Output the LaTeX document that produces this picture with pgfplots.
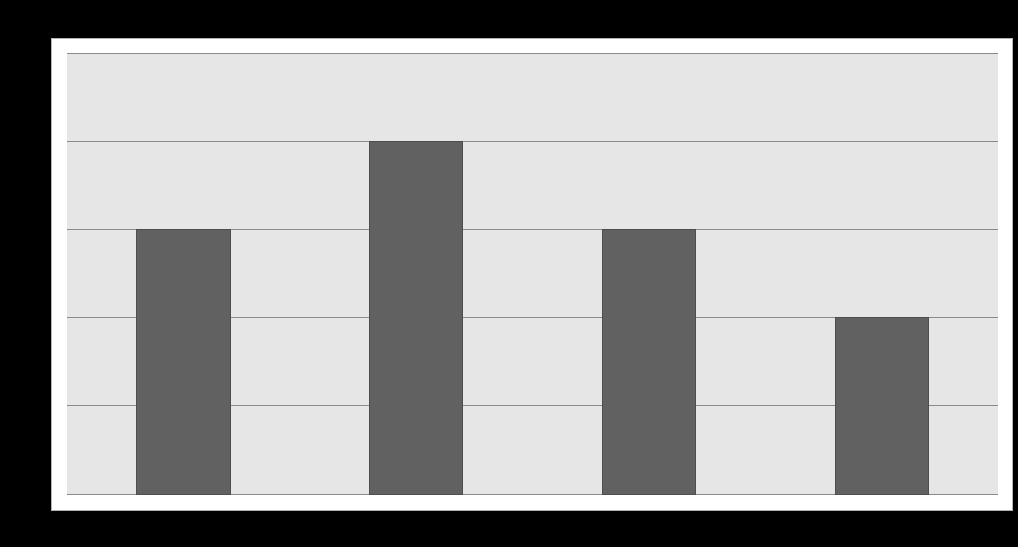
\documentclass[border=0pt]{standalone}
\usepackage{pgfplots}
\pgfplotsset{compat=1.18}
\definecolor{plotbg}{HTML}{E6E6E6}
\definecolor{barfill}{HTML}{616161}
\definecolor{gridgray}{HTML}{8A8A8A}

\begin{document}
\begin{tikzpicture}[x=1pt,y=1pt]
  % page background and white frame around the plot area
  \fill[black] (-67,-53) rectangle (951,494);
  \filldraw[fill=white,draw=gray!60,line width=0.8pt] (-16,-16) rectangle (945,456);
  \begin{axis}[
      scale only axis,
      width=931pt,
      height=441pt,
      ybar,
      bar width=0.4,
      xmin=-0.5, xmax=3.5,
      ymin=0, ymax=5,
      xtick=\empty,
      ytick={0,1,2,3,4,5},
      yticklabels={},
      major tick length=0pt,
      ymajorgrids,
      major grid style={gridgray,line width=1pt},
      axis line style={draw=none},
      axis background/.style={fill=plotbg},
    ]
    \addplot[fill=barfill,draw=barfill!80!black,line width=0.8pt]
      coordinates {(0,3) (1,4) (2,3) (3,2)};
  \end{axis}
\end{tikzpicture}
\end{document}
